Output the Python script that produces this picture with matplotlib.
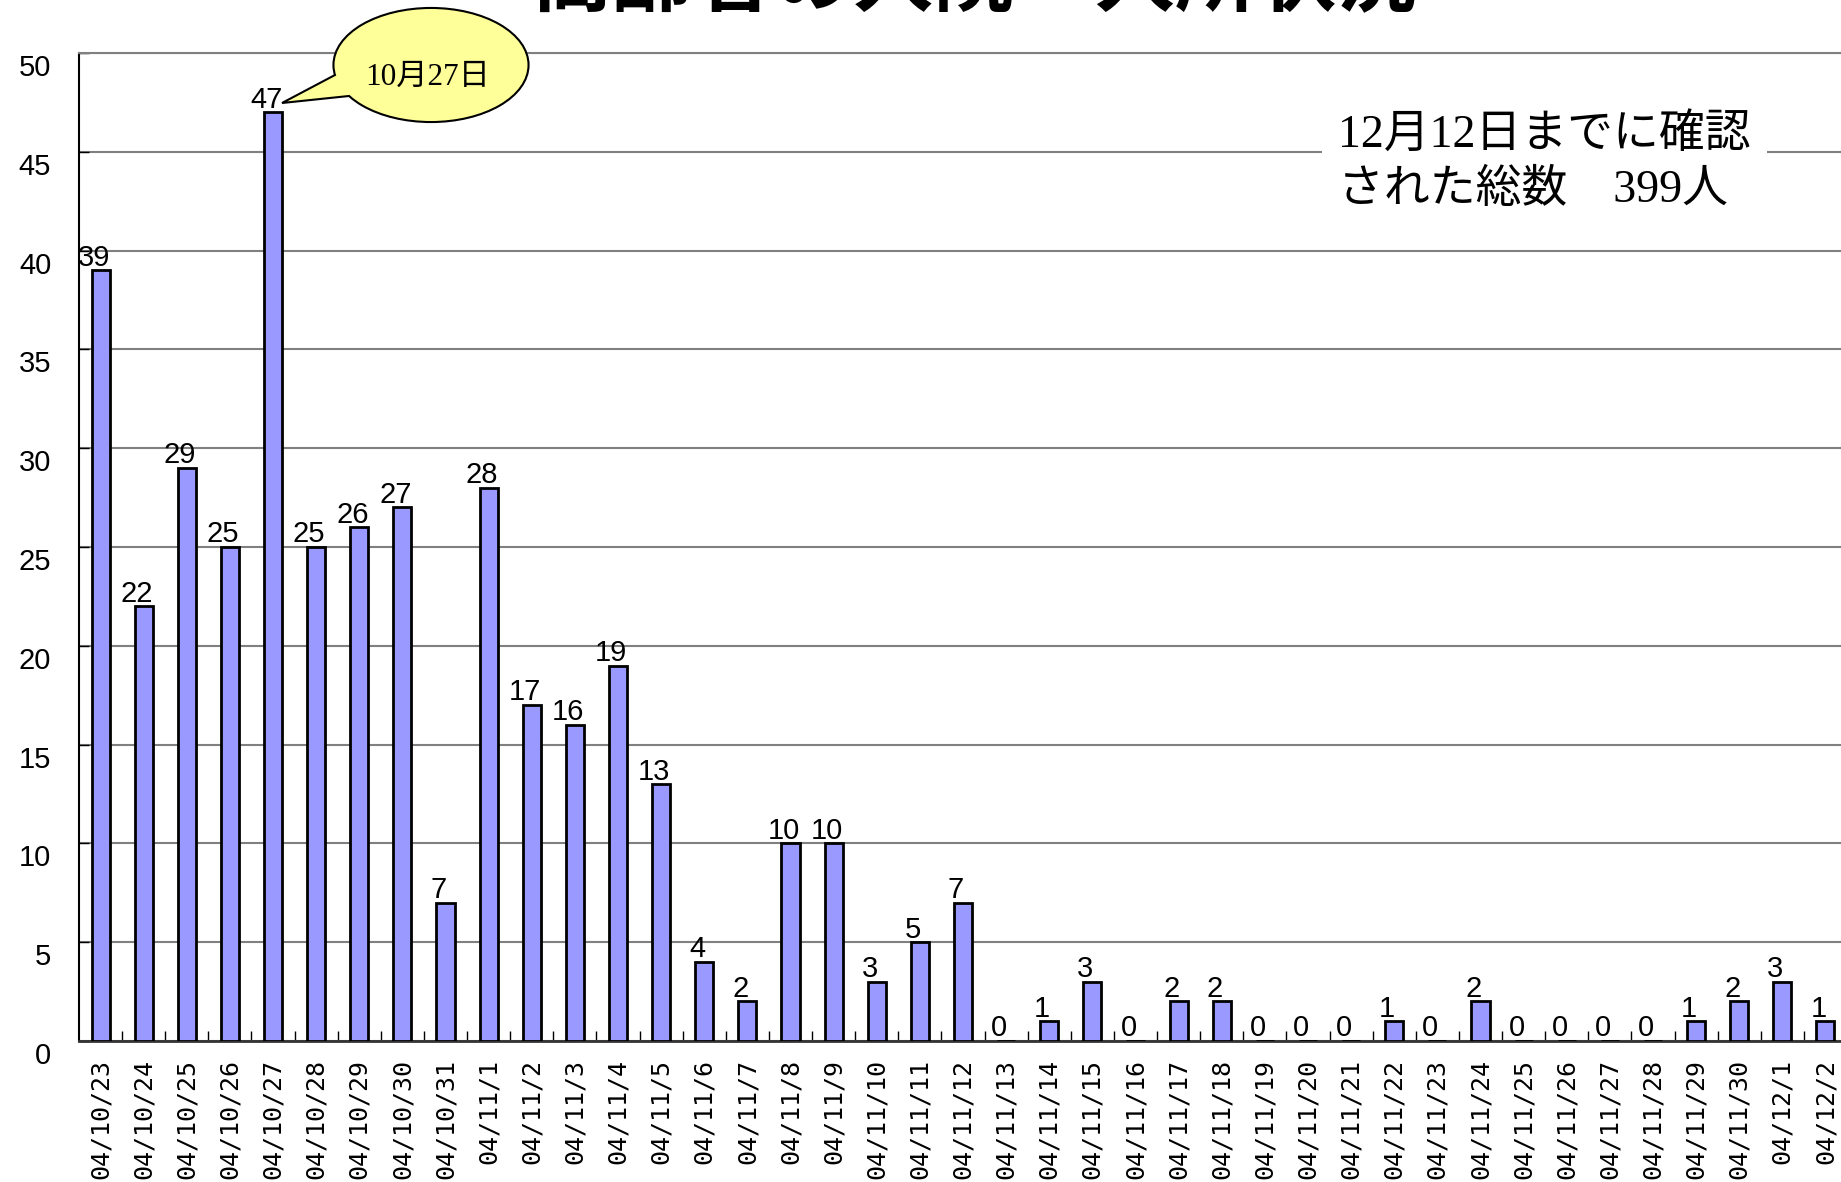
import matplotlib
matplotlib.use("Agg")
import matplotlib.pyplot as plt
import numpy as np
from matplotlib.patches import Ellipse, Polygon
from matplotlib.transforms import ScaledTranslation

plt.rcParams['font.family'] = ['Liberation Sans Narrow', 'Liberation Sans', 'DejaVu Sans']

dates = ["04/10/23", "04/10/24", "04/10/25", "04/10/26", "04/10/27", "04/10/28", "04/10/29",
         "04/10/30", "04/10/31", "04/11/1", "04/11/2", "04/11/3", "04/11/4", "04/11/5",
         "04/11/6", "04/11/7", "04/11/8", "04/11/9", "04/11/10", "04/11/11", "04/11/12",
         "04/11/13", "04/11/14", "04/11/15", "04/11/16", "04/11/17", "04/11/18", "04/11/19",
         "04/11/20", "04/11/21", "04/11/22", "04/11/23", "04/11/24", "04/11/25", "04/11/26",
         "04/11/27", "04/11/28", "04/11/29", "04/11/30", "04/12/1", "04/12/2"]
counts = [39, 22, 29, 25, 47, 25, 26, 27, 7, 28, 17, 16, 19, 13, 4, 2, 10, 10, 3, 5, 7,
          0, 1, 3, 0, 2, 2, 0, 0, 0, 1, 0, 2, 0, 0, 0, 0, 1, 2, 3, 1]
y_ticks = [0, 5, 10, 15, 20, 25, 30, 35, 40, 45, 50]

title = "高齢者の入院・入所状況"
callout_text = "10月27日"
note_text = "12月12日までに確認\nされた総数\u3000399人"

W, H = 1841, 1182
fig = plt.figure(figsize=(W / 100, H / 100), dpi=100)
ax = fig.add_axes([79 / W, 1 - 1041 / H, (1847 - 79) / W, (1041 - 53) / H])

x = np.arange(len(dates))
ax.bar(x, counts, width=0.42, color="#9999FF", edgecolor="black", linewidth=2, zorder=3)

for i, v in enumerate(counts):
    ax.annotate(str(v), xy=(i, v), xytext=(-5, -1), textcoords="offset points",
                ha="center", va="bottom", fontsize=21, zorder=4)

ax.set_xlim(-0.5, len(dates) - 0.5)
ax.set_ylim(0, 50)
ax.set_yticks(y_ticks)
ax.set_yticklabels([str(t) for t in y_ticks], fontsize=21)
ax.yaxis.grid(True, color="#808080", linewidth=1.5, zorder=0)
ax.set_axisbelow(True)

ax.set_xticks(x)
ax.set_xticklabels(dates, rotation=90, family="DejaVu Sans Mono", fontsize=18,
                   va="top", ha="center")
ax.set_xticks(np.arange(0.5, len(dates) - 0.5, 1), minor=True)
ax.tick_params(axis="x", which="major", length=0, pad=13)
ax.tick_params(axis="x", which="minor", direction="in", length=7, width=1)
ax.tick_params(axis="y", direction="in", length=7, width=1, pad=20)

# y labels sit a bit below their grid lines in the original
offset = ScaledTranslation(0, -0.12, fig.dpi_scale_trans)
for lab in ax.get_yticklabels():
    lab.set_transform(lab.get_transform() + offset)

ax.spines["left"].set_linewidth(1.5)
ax.spines["bottom"].set_linewidth(2)
ax.spines["bottom"].set_color("#333333")
ax.spines["top"].set_color("#808080")
ax.spines["top"].set_linewidth(1.5)
ax.spines["right"].set_visible(False)

# title, partly cut off at the top edge as in the original
fig.text(974 / W, 1 - 22 / H, title, ha="center", va="bottom", fontsize=58,
         fontweight="bold", family=["Noto Sans CJK JP", "DejaVu Sans"])

# speech bubble
def fpt(px, py):
    return (px / W, 1 - py / H)

tail = Polygon([fpt(282, 103), fpt(352, 66), fpt(368, 94)], closed=True,
               transform=fig.transFigure, facecolor="#FFFF99", edgecolor="black",
               linewidth=1.5, zorder=5)
bubble_edge = Ellipse(fpt(431, 65), 193 / W, 112 / H, transform=fig.transFigure,
                      facecolor="#FFFF99", edgecolor="black", linewidth=3, zorder=4)
bubble_fill = Ellipse(fpt(431, 65), 193 / W, 112 / H, transform=fig.transFigure,
                      facecolor="#FFFF99", edgecolor="none", zorder=6)
fig.add_artist(bubble_edge)
fig.add_artist(tail)
fig.add_artist(bubble_fill)
fig.text(428 / W, 1 - 77 / H, callout_text, ha="center", va="center", fontsize=22.5,
         family=["Liberation Serif", "Noto Sans CJK JP"], zorder=7)

# total note with white background over the grid
fig.text(1338 / W, 1 - 163 / H, note_text, ha="left", va="center", fontsize=33,
         linespacing=1.4, family=["Liberation Serif", "Noto Sans CJK JP"],
         bbox=dict(facecolor="white", edgecolor="none", pad=12), zorder=5)

fig.savefig("out.png", dpi=100)
